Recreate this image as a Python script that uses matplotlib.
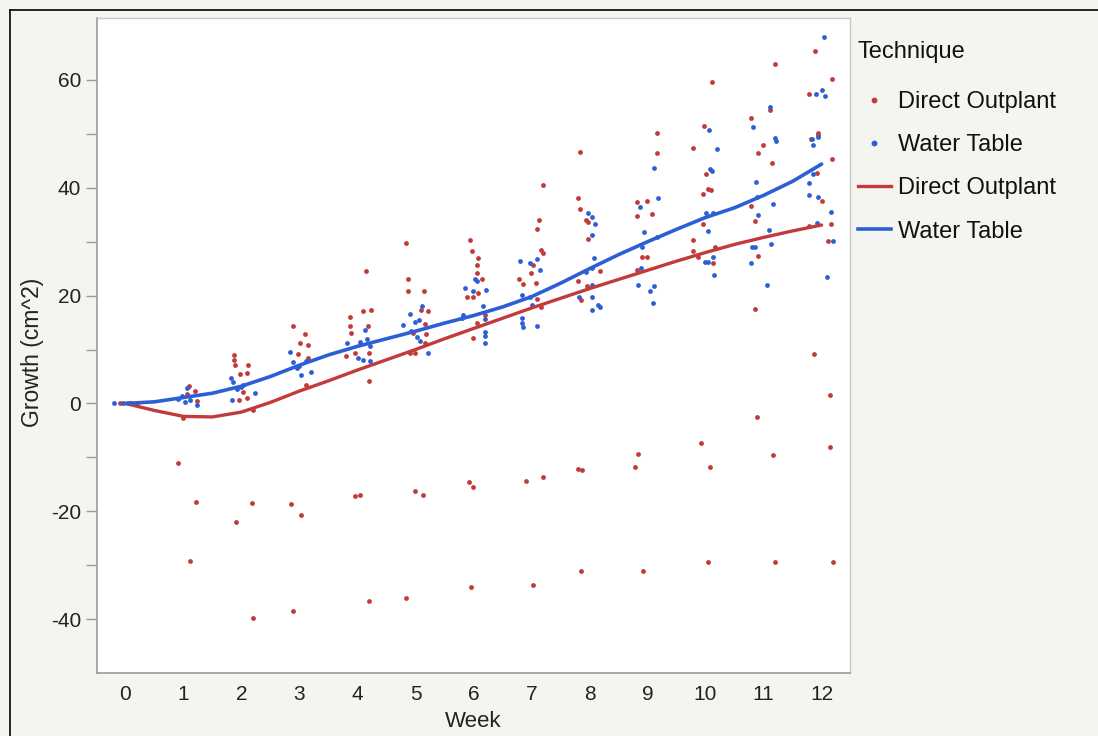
import matplotlib
matplotlib.use("Agg")
import matplotlib.pyplot as plt
from matplotlib.lines import Line2D

plt.rcParams['font.family'] = ['Liberation Sans', 'DejaVu Sans']
plt.rcParams['axes.unicode_minus'] = False

# ---------------- data ----------------
weeks = list(range(13))

# Direct Outplant raw observations (jittered week, growth)
direct_x = [-0.1, 0.05, 0.2,
            1.1, 1.2, 1.06, 1.23, 1.0, 0.9, 1.22, 1.11,
            1.87, 1.87, 1.89, 2.12, 2.09, 1.97, 2.03, 2.09, 1.96, 2.2, 1.9, 2.18, 2.2,
            2.89, 3.09, 3.01, 3.15, 2.97, 3.15, 3.11, 2.85, 3.03, 2.89,
            4.15, 4.09, 4.23, 3.87, 3.87, 3.89, 4.18, 3.96, 3.8, 4.2, 4.2, 3.96, 4.04, 4.2,
            4.84, 4.87, 4.87, 5.15, 5.09, 5.22, 5.16, 4.96, 5.18, 5.16, 4.9, 5.0, 5.0, 5.13, 4.84,
            5.94, 5.97, 6.08, 6.06, 6.06, 6.15, 6.08, 6.0, 5.89, 6.2, 6.06, 6.0, 5.92, 6.0, 5.96,
            7.13, 7.09, 7.16, 7.2, 7.03, 6.99, 6.78, 6.85, 7.08, 7.09, 7.16, 7.2, 6.91, 7.2, 7.03,
            7.84, 7.8, 7.84, 7.94, 7.97, 7.97, 8.18, 7.8, 7.96, 7.85, 7.8, 7.87, 7.85,
            9.16, 9.16, 8.81, 8.99, 8.81, 9.08, 8.91, 8.99, 8.81, 8.84, 8.78, 8.92,
            10.11, 9.97, 9.78, 10.01, 10.04, 10.09, 9.96, 9.96, 9.78, 9.78, 10.16, 9.87, 10.12, 9.92, 10.07, 10.04,
            11.2, 11.11, 10.78, 10.99, 10.91, 11.15, 10.78, 10.85, 10.9, 10.85, 10.89, 11.16, 11.2,
            11.89, 12.18, 11.78, 11.94, 11.94, 11.82, 12.18, 11.92, 12.01, 12.16, 11.78, 12.11, 11.87, 12.14, 12.14, 12.2]
direct_y = [0, 0, 0,
            3.3, 2.4, 1.7, 0.4, -2.7, -11.1, -18.3, -29.2,
            8.9, 8.1, 7.2, 7.2, 5.7, 5.4, 2.2, 1.1, 0.7, -1.3, -21.9, -18.5, -39.8,
            14.4, 12.8, 11.3, 10.9, 9.1, 8.5, 3.5, -18.7, -20.7, -38.5,
            24.6, 17.2, 17.3, 16.1, 14.3, 13.1, 14.3, 9.4, 8.8, 9.4, 4.1, -17.2, -16.9, -36.6,
            29.8, 23.1, 20.8, 20.8, 17.4, 17.2, 14.8, 13.0, 12.8, 11.3, 9.3, 9.3, -16.2, -17.0, -36.0,
            30.4, 28.2, 27.0, 25.7, 24.2, 23.1, 20.5, 19.8, 19.7, 16.5, 15.0, 12.2, -14.6, -15.5, -34.0,
            34.0, 32.4, 28.5, 28.0, 25.7, 24.2, 23.1, 22.2, 22.4, 19.4, 17.8, 40.5, -14.4, -13.7, -33.7,
            46.7, 38.1, 36.1, 34.0, 33.6, 30.5, 24.6, 22.8, 21.7, 19.2, -12.2, -12.3, -31.0,
            50.2, 46.4, 37.4, 37.6, 34.8, 35.2, 27.2, 27.2, 24.8, -9.4, -11.8, -31.0,
            59.6, 51.5, 47.4, 42.6, 39.8, 39.6, 38.9, 33.3, 30.4, 28.2, 29.1, 27.2, 26.0, -7.4, -11.8, -29.4,
            63.0, 54.4, 53.0, 48.0, 46.4, 44.6, 36.7, 33.9, 27.4, 17.6, -2.6, -9.6, -29.4,
            65.4, 60.2, 57.4, 50.2, 49.8, 49.0, 45.4, 42.8, 37.6, 33.3, 33.0, 30.2, 9.1, 1.5, -8.1, -29.4]

# Water Table raw observations (jittered week, growth)
water_x = [-0.2, -0.05, 0.1,
           1.06, 0.98, 0.9, 1.12, 1.23, 1.03,
           1.82, 1.85, 2.03, 1.92, 2.23, 1.83, 2.0,
           2.84, 2.88, 3.0, 3.2, 3.02, 3.12, 2.95,
           4.13, 3.82, 4.04, 4.16, 4.21, 4.01, 4.1, 4.21,
           5.11, 4.9, 5.0, 5.06, 4.78, 4.92, 5.03, 5.08, 5.22,
           6.03, 6.06, 5.85, 6.0, 6.22, 6.17, 5.82, 5.8, 6.19, 6.2, 6.2, 6.2,
           6.8, 6.97, 7.09, 7.15, 6.84, 6.97, 7.0, 6.84, 6.84, 6.85, 7.09,
           7.97, 8.04, 8.09, 8.04, 8.07, 8.04, 7.94, 8.04, 7.82, 8.04, 8.04, 8.14, 8.18,
           9.11, 8.87, 9.18, 8.94, 9.16, 8.91, 8.89, 8.84, 9.04, 9.11, 9.09,
           10.06, 10.2, 10.07, 10.11, 10.01, 10.12, 10.04, 10.12, 9.99, 10.04, 10.15,
           11.11, 10.82, 11.2, 11.22, 10.87, 10.89, 11.16, 10.91, 11.09, 11.13, 10.8, 10.85, 10.78, 11.06,
           12.04, 11.91, 12.01, 12.06, 11.94, 11.84, 11.85, 11.85, 11.78, 11.78, 11.94, 12.16, 11.92, 12.19, 12.09]
water_y = [0, 0, 0,
           2.8, 1.3, 0.9, 0.6, -0.2, 0.2,
           4.8, 4.0, 3.5, 2.6, 2.0, 0.6, 3.0,
           9.6, 7.6, 7.0, 5.9, 5.2, 7.8, 6.5,
           13.7, 11.3, 11.4, 11.9, 10.6, 8.5, 8.1, 7.8,
           18.1, 16.6, 15.2, 15.5, 14.6, 13.4, 12.3, 11.5, 9.4,
           23.1, 22.8, 21.4, 20.8, 21.0, 18.0, 16.5, 15.8, 15.6, 13.3, 12.6, 11.3,
           26.5, 26.1, 26.8, 24.7, 20.2, 19.8, 18.3, 15.9, 15.0, 14.1, 14.4,
           35.3, 34.6, 33.3, 31.3, 26.9, 25.2, 24.3, 22.0, 19.7, 19.7, 17.4, 18.2, 17.8,
           43.7, 36.5, 38.1, 31.8, 30.8, 29.1, 25.2, 22.0, 20.9, 21.7, 18.7,
           50.7, 47.2, 43.5, 43.2, 35.4, 35.4, 32.0, 27.2, 26.3, 26.3, 23.9,
           55.0, 51.3, 49.3, 48.7, 41.0, 38.3, 37.0, 35.0, 32.2, 29.6, 29.1, 29.0, 26.1, 22.0,
           68.0, 57.4, 58.1, 57.0, 49.4, 49.0, 48.0, 42.6, 40.9, 38.7, 38.3, 35.6, 33.5, 30.2, 23.5]

# Smoother curves every half week
curve_x = [0, 0.5, 1, 1.5, 2, 2.5, 3, 3.5, 4, 4.5, 5, 5.5, 6, 6.5, 7, 7.5, 8,
           8.5, 9, 9.5, 10, 10.5, 11, 11.5, 12]
direct_curve = [0, -1.3, -2.4, -2.5, -1.6, 0.2, 2.3, 4.2, 6.2, 8.1, 10.0, 12.0, 13.9,
                15.8, 17.7, 19.5, 21.3, 23.0, 24.7, 26.4, 28.0, 29.5, 30.8, 32.0, 33.1]
water_curve = [0, 0.3, 1.1, 1.9, 3.2, 5.0, 7.1, 9.0, 10.6, 12.0, 13.4, 14.9, 16.3,
               17.9, 19.8, 22.3, 25.0, 27.6, 30.0, 32.3, 34.5, 36.3, 38.6, 41.2, 44.4]

y_ticks = [-40, -20, 0, 20, 40, 60]
y_minor_ticks = [-30, -10, 10, 30, 50]

RED = '#C23A3A'
BLUE = '#2C5FD6'
BG = '#F4F4F1'

# ---------------- figure ----------------
fig = plt.figure(figsize=(10.98, 7.36), dpi=100, facecolor=BG)
ax = fig.add_axes([97/1098, 1-673/736, (850-97)/1098, (673-18)/736])
ax.set_facecolor('white')

ax.scatter(direct_x, direct_y, s=12, color=RED, linewidths=0, zorder=3)
ax.scatter(water_x, water_y, s=12, color=BLUE, linewidths=0, zorder=3)
ax.plot(curve_x, direct_curve, color=RED, lw=2.4, zorder=4, solid_capstyle='round')
ax.plot(curve_x, water_curve, color=BLUE, lw=2.6, zorder=4, solid_capstyle='round')

ax.set_xlim(-0.49, 12.49)
ax.set_ylim(-50, 71.5)
ax.set_xticks(weeks)
ax.set_yticks(y_ticks)
ax.set_yticks(y_minor_ticks, minor=True)
ax.tick_params(axis='x', length=0, pad=9, labelsize=15, colors='#222222')
ax.tick_params(axis='y', which='both', direction='out', length=8, width=1,
               color='#9A9A9A', pad=3.5, labelsize=15, labelcolor='#222222')
for side in ['left', 'bottom']:
    ax.spines[side].set_color('#9A9A9A')
    ax.spines[side].set_linewidth(1.2)
for side in ['top', 'right']:
    ax.spines[side].set_color('#C8C8C8')
    ax.spines[side].set_linewidth(1.0)

ax.set_xlabel('Week', fontsize=16, color='#222222', labelpad=5)
ax.set_ylabel('Growth (cm^2)', fontsize=16.5, color='#222222')
ax.yaxis.set_label_coords(-0.071, 0.489)

handles = [
    Line2D([], [], marker='o', linestyle='None', markersize=3.2, color=RED),
    Line2D([], [], marker='o', linestyle='None', markersize=3.2, color=BLUE),
    Line2D([], [], color=RED, lw=2.4),
    Line2D([], [], color=BLUE, lw=2.6),
]
labels = ['Direct Outplant', 'Water Table', 'Direct Outplant', 'Water Table']
leg = fig.legend(handles, labels, title='Technique', loc='upper left',
                 bbox_to_anchor=(858/1098, 1-41/736), frameon=False,
                 fontsize=17, title_fontsize=17, labelspacing=0.9,
                 handlelength=1.38, handletextpad=0.3, borderpad=0,
                 borderaxespad=0, alignment='left')
leg._legend_box.sep = 20
for t in leg.get_texts():
    t.set_color('#111111')
leg.get_title().set_color('#111111')

# outer border lines (left and top)
fig.add_artist(Line2D([10/1098, 10/1098], [0, 1-10/736], color='black', lw=1.2,
                      transform=fig.transFigure))
fig.add_artist(Line2D([10/1098, 1], [1-10/736, 1-10/736], color='black', lw=1.2,
                      transform=fig.transFigure))

fig.savefig('out.png', dpi=100, facecolor=BG)
